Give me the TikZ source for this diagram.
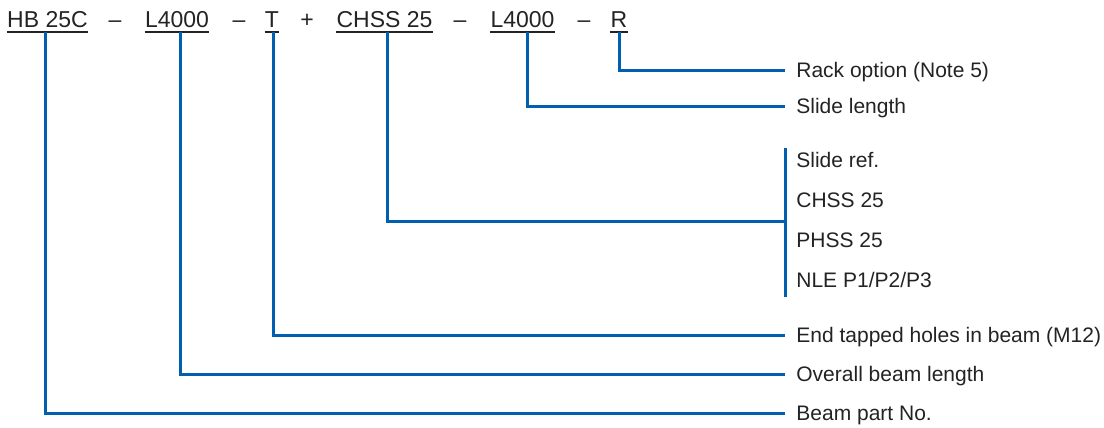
\documentclass[tikz,border=0pt]{standalone}
\usepackage{fontspec}
\setmainfont{Liberation Sans}
\usepackage{tikz}
\usetikzlibrary{positioning}
\definecolor{lead}{RGB}{0,96,175}
\definecolor{ink}{RGB}{35,35,35}

\begin{document}
\begin{tikzpicture}[
  x=0.5pt, y=-0.5pt,
  code/.style={inner sep=0pt, anchor=base, text=ink, font=\fontsize{11.5}{14}\selectfont},
  lab/.style={anchor=west, inner xsep=5.5pt, inner ysep=0pt, text height=7.5pt, text depth=0pt,
    text=ink, font=\fontsize{10.5}{13}\selectfont},
  ul/.style={line width=0.6pt, ink},
  ln/.style={line width=1.5pt, lead}
]
\useasboundingbox (0,0) rectangle (1104,428);

% part number
\node[code] (hb)   at (47.5,27) {HB 25C};
\node[code] (d1)   at (115,27)  {–};
\node[code] (bl)   at (177,27)  {L4000};
\node[code] (d2)   at (239,27)  {–};
\node[code] (tap)  at (272,27)  {T};
\node[code] (plus) at (307,27)  {+};
\node[code] (chss) at (384.5,27) {CHSS 25};
\node[code] (d3)   at (460,27)  {–};
\node[code] (sl)   at (522.5,27) {L4000};
\node[code] (d4)   at (584,27)  {–};
\node[code] (rk)   at (619,27)  {R};

\foreach \n in {hb,bl,tap,chss,sl,rk}
  \draw[ul] ([yshift=-2.5pt]\n.base west) -- ([yshift=-2.5pt]\n.base east);

% descriptions
\node[lab] (rack)   at (785,70)  {Rack option (Note 5)};
\node[lab] (slen)   at (785,106) {Slide length};
\node[lab] (sref)   at (785,160) {Slide ref.};
\node[lab] (sr1)    at (785,200) {CHSS 25};
\node[lab] (sr2)    at (785,240) {PHSS 25};
\node[lab] (sr3)    at (785,280) {NLE P1/P2/P3};
\node[lab] (ends)   at (785,335) {End tapped holes in beam (M12)};
\node[lab] (blen)   at (785,374) {Overall beam length};
\node[lab] (beam)   at (785,413) {Beam part No.};
\coordinate (bartop) at (785,148);
\coordinate (barbot) at (785,297);
\coordinate (barmid) at (785,221);

\draw[ln] (bartop) -- (barbot);
\draw[ln] ([yshift=-2.5pt]rk.base) |- (rack.west);
\draw[ln] ([xshift=2.25pt,yshift=-2.5pt]sl.base) |- (slen.west);
\draw[ln] ([xshift=1.25pt,yshift=-2.5pt]chss.base) |- (barmid);
\draw[ln] ([xshift=0.5pt,yshift=-2.5pt]tap.base) |- (ends.west);
\draw[ln] ([xshift=1.5pt,yshift=-2.5pt]bl.base) |- (blen.west);
\draw[ln] ([xshift=-1.25pt,yshift=-2.5pt]hb.base) |- (beam.west);
\end{tikzpicture}
\end{document}
